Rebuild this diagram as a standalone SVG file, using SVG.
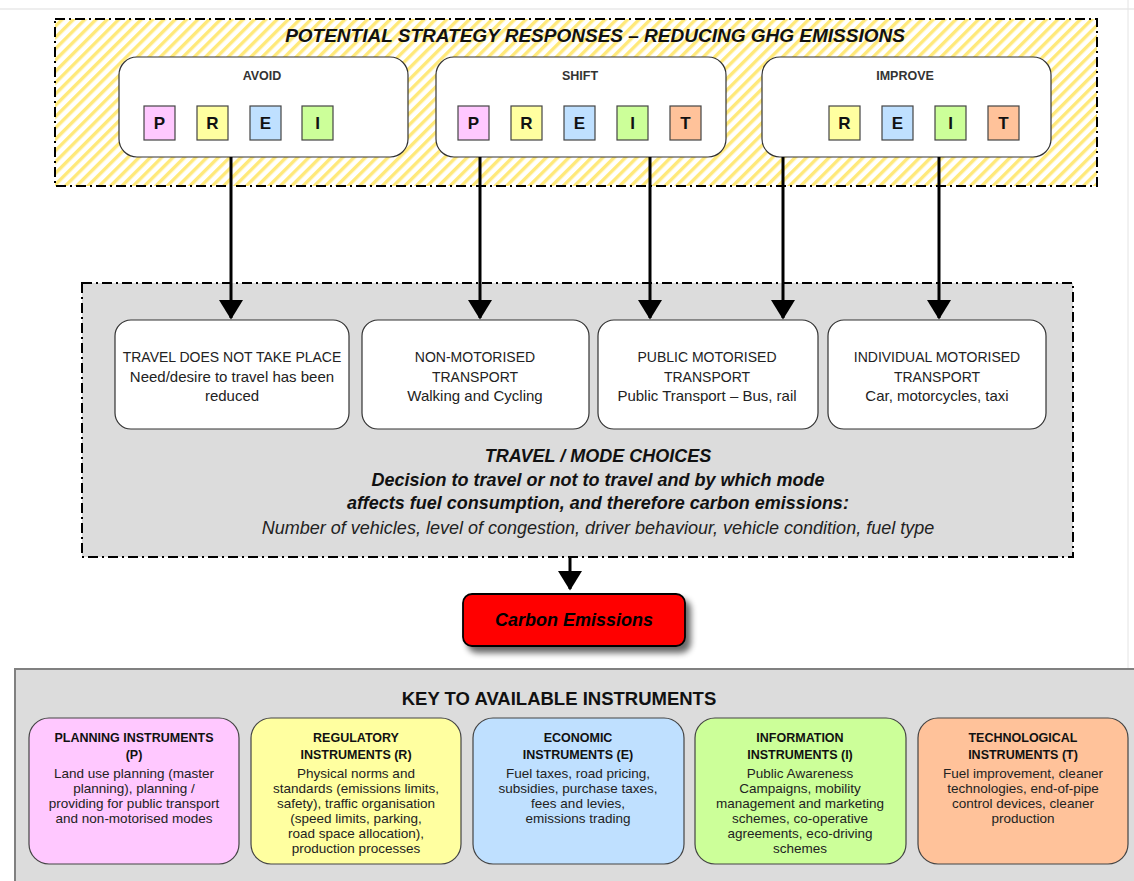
<svg xmlns="http://www.w3.org/2000/svg" width="1134" height="881" viewBox="0 0 1134 881">
<defs>
<pattern id="hatch" patternUnits="userSpaceOnUse" width="8" height="8" patternTransform="rotate(45)">
<rect width="8" height="8" fill="#ffffff"/>
<rect x="0" y="0" width="3.4" height="8" fill="#ffe97a"/>
</pattern>
<marker id="ah" markerWidth="6.5" markerHeight="8" refX="6" refY="4" orient="auto" markerUnits="strokeWidth">
<path d="M0,0 L6.5,4 L0,8 Z" fill="#000"/>
</marker>
<filter id="shadow" x="-20%" y="-30%" width="150%" height="180%">
<feGaussianBlur in="SourceAlpha" stdDeviation="3"/>
<feOffset dx="5" dy="6" result="b"/>
<feComponentTransfer><feFuncA type="linear" slope="0.6"/></feComponentTransfer>
<feMerge><feMergeNode/><feMergeNode in="SourceGraphic"/></feMerge>
</filter>
</defs>
<style>
text{font-family:"Liberation Sans",Arial,sans-serif;fill:#111;text-anchor:middle}
.dash{fill:none;stroke:#000;stroke-width:2;stroke-dasharray:10,4,2,4}
.grp{stroke:#333;stroke-width:1.2;fill:#fff}
.lt{stroke:#444;stroke-width:1.2}
.lab{font-size:12.5px;font-weight:bold;fill:#333}
.let{font-size:17px;font-weight:bold}
.P{fill:#ffc8ff}.R{fill:#ffffa0}.E{fill:#bfe0ff}.I{fill:#ccff99}.T{fill:#ffc29a}
.mc{font-size:14px;fill:#222}
.ml{font-size:15px;fill:#222}
.mid{font-size:18px;font-style:italic;font-weight:bold}
.key{stroke:#444;stroke-width:1.2}
.kh{font-size:12.5px;font-weight:bold}
.kb{font-size:13.5px;fill:#222}
.conn{stroke:#000;stroke-width:3;fill:none}
</style>
<line x1="0" y1="9" x2="1134" y2="9" stroke="#dddddd" stroke-width="1"/>
<line x1="1128" y1="0" x2="1128" y2="668" stroke="#e4e4e4" stroke-width="1"/>

<g id="strategy-panel">
<rect x="55" y="19" width="1042" height="167" fill="url(#hatch)"/>
<rect x="55" y="19" width="1042" height="167" class="dash"/>
<text x="595" y="42" style="font-size:19px;font-weight:bold;font-style:italic">POTENTIAL STRATEGY RESPONSES – REDUCING GHG EMISSIONS</text>
</g>

<g id="avoid">
<rect x="119" y="57" width="289" height="100" rx="18" class="grp"/>
<text x="262" y="80" class="lab">AVOID</text>
<rect x="144" y="106" width="31" height="34" class="P lt"/><text x="159.5" y="129" class="let">P</text>
<rect x="197" y="106" width="31" height="34" class="R lt"/><text x="212.5" y="129" class="let">R</text>
<rect x="250" y="106" width="31" height="34" class="E lt"/><text x="265.5" y="129" class="let">E</text>
<rect x="302" y="106" width="31" height="34" class="I lt"/><text x="317.5" y="129" class="let">I</text>
</g>
<g id="shift">
<rect x="436" y="57" width="290" height="100" rx="18" class="grp"/>
<text x="580" y="80" class="lab">SHIFT</text>
<rect x="458" y="106" width="31" height="34" class="P lt"/><text x="473.5" y="129" class="let">P</text>
<rect x="511" y="106" width="31" height="34" class="R lt"/><text x="526.5" y="129" class="let">R</text>
<rect x="564" y="106" width="31" height="34" class="E lt"/><text x="579.5" y="129" class="let">E</text>
<rect x="617" y="106" width="31" height="34" class="I lt"/><text x="632.5" y="129" class="let">I</text>
<rect x="670" y="106" width="31" height="34" class="T lt"/><text x="685.5" y="129" class="let">T</text>
</g>
<g id="improve">
<rect x="762" y="57" width="289" height="100" rx="18" class="grp"/>
<text x="905" y="80" class="lab">IMPROVE</text>
<rect x="829" y="106" width="31" height="34" class="R lt"/><text x="844.5" y="129" class="let">R</text>
<rect x="882" y="106" width="31" height="34" class="E lt"/><text x="897.5" y="129" class="let">E</text>
<rect x="935" y="106" width="31" height="34" class="I lt"/><text x="950.5" y="129" class="let">I</text>
<rect x="988" y="106" width="31" height="34" class="T lt"/><text x="1003.5" y="129" class="let">T</text>
</g>

<g id="mode-panel">
<rect x="82" y="283" width="991" height="274" fill="#dcdcdc"/>
<rect x="82" y="283" width="991" height="274" class="dash"/>
<text x="598" y="462" class="mid">TRAVEL / MODE CHOICES</text>
<text x="598" y="486" class="mid">Decision to travel or not to travel and by which mode</text>
<text x="598" y="509" class="mid">affects fuel consumption, and therefore carbon emissions:</text>
<text x="598" y="534" style="font-size:18px;font-style:italic;fill:#222">Number of vehicles, level of congestion, driver behaviour, vehicle condition, fuel type</text>
</g>

<g id="no-travel">
<rect x="115" y="320" width="234" height="109" rx="16" class="grp"/>
<text x="232" y="362" class="mc">TRAVEL DOES NOT TAKE PLACE</text>
<text x="232" y="382" class="ml">Need/desire to travel has been</text>
<text x="232" y="401" class="ml">reduced</text>
</g>
<g id="non-motorised">
<rect x="362" y="320" width="227" height="109" rx="16" class="grp"/>
<text x="475" y="362" class="mc">NON-MOTORISED</text>
<text x="475" y="382" class="mc">TRANSPORT</text>
<text x="475" y="401" class="ml">Walking and Cycling</text>
</g>
<g id="public-motorised">
<rect x="598" y="320" width="220" height="109" rx="16" class="grp"/>
<text x="707" y="362" class="mc">PUBLIC MOTORISED</text>
<text x="707" y="382" class="mc">TRANSPORT</text>
<text x="707" y="401" class="ml">Public Transport – Bus, rail</text>
</g>
<g id="individual-motorised">
<rect x="828" y="320" width="218" height="109" rx="16" class="grp"/>
<text x="937" y="362" class="mc">INDIVIDUAL MOTORISED</text>
<text x="937" y="382" class="mc">TRANSPORT</text>
<text x="937" y="401" class="ml">Car, motorcycles, taxi</text>
</g>

<g id="carbon">
<rect x="463" y="594" width="222" height="52" rx="9" fill="#ff0000" stroke="#000" stroke-width="1.8" filter="url(#shadow)"/>
<text x="574" y="626" style="font-size:18px;font-weight:bold;font-style:italic;fill:#000">Carbon Emissions</text>
</g>

<g id="connectors">
<line x1="231" y1="157" x2="231" y2="318" class="conn" marker-end="url(#ah)"/>
<line x1="480" y1="157" x2="480" y2="318" class="conn" marker-end="url(#ah)"/>
<line x1="650" y1="157" x2="650" y2="318" class="conn" marker-end="url(#ah)"/>
<line x1="783" y1="157" x2="783" y2="318" class="conn" marker-end="url(#ah)"/>
<line x1="939" y1="157" x2="939" y2="318" class="conn" marker-end="url(#ah)"/>
<line x1="570" y1="557" x2="570" y2="589" class="conn" marker-end="url(#ah)"/>
</g>

<g id="key-panel">
<rect x="15" y="669" width="1130" height="220" fill="#dcdcdc" stroke="#808080" stroke-width="2"/>
<text x="559" y="705" style="font-size:18.5px;font-weight:bold">KEY TO AVAILABLE INSTRUMENTS</text>
</g>
<g id="key-planning">
<rect x="29" y="718" width="210" height="146" rx="20" class="P key"/>
<text x="134" y="742" class="kh">PLANNING INSTRUMENTS</text>
<text x="134" y="759" class="kh">(P)</text>
<text x="134" y="778" class="kb">Land use planning (master</text>
<text x="134" y="793" class="kb">planning), planning /</text>
<text x="134" y="808" class="kb">providing for public transport</text>
<text x="134" y="823" class="kb">and non-motorised modes</text>
</g>
<g id="key-regulatory">
<rect x="251" y="718" width="210" height="146" rx="20" class="R key"/>
<text x="356" y="742" class="kh">REGULATORY</text>
<text x="356" y="759" class="kh">INSTRUMENTS (R)</text>
<text x="356" y="778" class="kb">Physical norms and</text>
<text x="356" y="793" class="kb">standards (emissions limits,</text>
<text x="356" y="808" class="kb">safety), traffic organisation</text>
<text x="356" y="823" class="kb">(speed limits, parking,</text>
<text x="356" y="838" class="kb">road space allocation),</text>
<text x="356" y="853" class="kb">production processes</text>
</g>
<g id="key-economic">
<rect x="473" y="718" width="211" height="146" rx="20" class="E key"/>
<text x="578" y="742" class="kh">ECONOMIC</text>
<text x="578" y="759" class="kh">INSTRUMENTS (E)</text>
<text x="578" y="778" class="kb">Fuel taxes, road pricing,</text>
<text x="578" y="793" class="kb">subsidies, purchase taxes,</text>
<text x="578" y="808" class="kb">fees and levies,</text>
<text x="578" y="823" class="kb">emissions trading</text>
</g>
<g id="key-information">
<rect x="695" y="718" width="211" height="146" rx="20" class="I key"/>
<text x="800" y="742" class="kh">INFORMATION</text>
<text x="800" y="759" class="kh">INSTRUMENTS (I)</text>
<text x="800" y="778" class="kb">Public Awareness</text>
<text x="800" y="793" class="kb">Campaigns, mobility</text>
<text x="800" y="808" class="kb">management and marketing</text>
<text x="800" y="823" class="kb">schemes, co-operative</text>
<text x="800" y="838" class="kb">agreements, eco-driving</text>
<text x="800" y="853" class="kb">schemes</text>
</g>
<g id="key-technological">
<rect x="918" y="718" width="210" height="146" rx="20" class="T key"/>
<text x="1023" y="742" class="kh">TECHNOLOGICAL</text>
<text x="1023" y="759" class="kh">INSTRUMENTS (T)</text>
<text x="1023" y="778" class="kb">Fuel improvement, cleaner</text>
<text x="1023" y="793" class="kb">technologies, end-of-pipe</text>
<text x="1023" y="808" class="kb">control devices, cleaner</text>
<text x="1023" y="823" class="kb">production</text>
</g>
</svg>
